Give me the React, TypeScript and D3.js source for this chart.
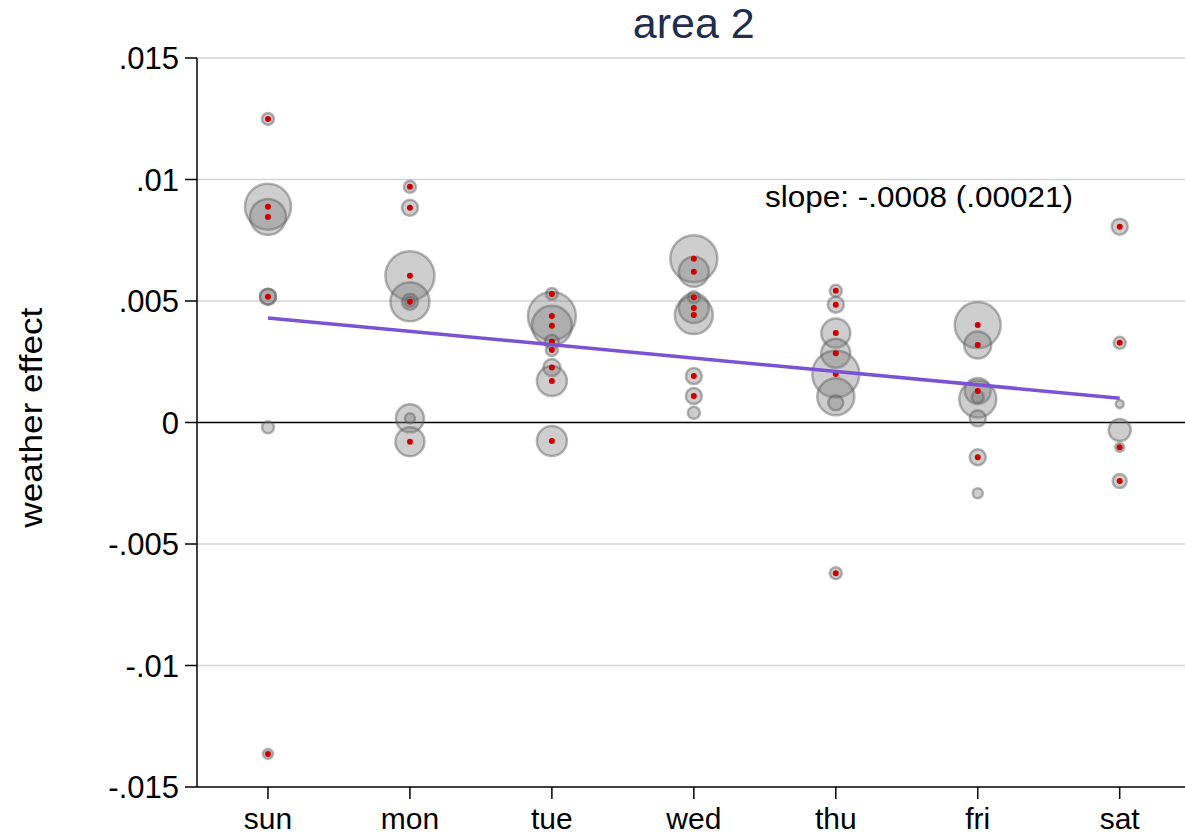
import React from "react";
import * as d3 from "d3";

const days = ["sun", "mon", "tue", "wed", "thu", "fri", "sat"];
const yTicks = [0.015, 0.01, 0.005, 0, -0.005, -0.01, -0.015];
const yTickLabels = [".015", ".01", ".005", "0", "-.005", "-.01", "-.015"];

// bubble: day index, value, radius weight, significant (red dot)
const bubbleDay = [
  0, 0, 0, 0, 0, 0, 0,
  1, 1, 1, 1, 1, 1, 1, 1, 1,
  2, 2, 2, 2, 2, 2, 2, 2,
  3, 3, 3, 3, 3, 3, 3, 3,
  4, 4, 4, 4, 4, 4, 4, 4,
  5, 5, 5, 5, 5, 5, 5, 5,
  6, 6, 6, 6, 6, 6,
];
const bubbleValue = [
  0.01249, 0.00888, 0.00846, 0.00518, 0.00518, -0.0002, -0.01364,
  0.0097, 0.00884, 0.00604, 0.00497, 0.00497, 0.00497, 0.00017, 0.00017, -0.00079,
  0.00529, 0.00438, 0.00398, 0.00332, 0.00298, 0.00226, 0.00171, -0.00076,
  0.00674, 0.0062, 0.00515, 0.00471, 0.00442, 0.00191, 0.00109, 0.0004,
  0.00542, 0.00485, 0.00368, 0.00285, 0.002, 0.00106, 0.00081, -0.0062,
  0.00401, 0.00319, 0.0013, 0.00097, 0.00104, 0.00017, -0.00143, -0.00291,
  0.00806, 0.00328, 0.00076, -0.00031, -0.00102, -0.00241,
];
const bubbleRadius = [
  6, 23, 18, 8, 8, 6, 5,
  6, 8, 24.5, 19.5, 8, 5, 14, 5, 14.5,
  6, 24, 20, 7, 6, 8.5, 15, 15,
  23.5, 15, 6, 15, 19, 8, 8, 6,
  6, 8, 14.5, 14.5, 23.5, 18.5, 7.5, 6,
  23, 13.5, 13, 18.5, 6, 8, 8, 5,
  8, 6, 4, 11, 4.5, 7,
];
const bubbleRed = [
  1, 1, 1, 1, 0, 0, 1,
  1, 1, 1, 1, 0, 0, 0, 0, 1,
  1, 1, 1, 1, 1, 1, 1, 1,
  1, 1, 1, 1, 1, 1, 1, 0,
  1, 1, 1, 1, 1, 0, 0, 1,
  1, 1, 1, 0, 0, 0, 1, 0,
  1, 1, 0, 0, 1, 1,
];

const fitDays = [0, 6];
const fitValues = [0.0043, 0.001];

const W = 1185;
const H = 835;
const left = 197;
const right = 1185;
const top = 58;
const bottom = 787;

export default function App() {
  const x = d3.scaleLinear().domain([-0.5, 6.46]).range([left, right]);
  const y = d3.scaleLinear().domain([-0.015, 0.015]).range([bottom, top]);
  const font = "'Liberation Sans', Arial, sans-serif";
  const line = d3
    .line<number>()
    .x((_, i) => x(fitDays[i]))
    .y((v) => y(v));

  return (
    <svg
      width={W}
      height={H}
      style={{ position: "absolute", left: 0, top: 0, background: "#fff" }}
      fontFamily={font}
    >
      <rect x={0} y={0} width={W} height={H} fill="#fff" />
      {yTicks.map((t, i) =>
        t !== 0 && t !== -0.015 ? (
          <line key={"g" + i} x1={left} x2={right} y1={y(t)} y2={y(t)} stroke="#d4d4d4" strokeWidth={1.5} />
        ) : null
      )}
      <line x1={left} x2={right} y1={y(0)} y2={y(0)} stroke="#000" strokeWidth={1.5} />
      {/* y axis */}
      <line x1={left} x2={left} y1={top} y2={bottom} stroke="#000" strokeWidth={1.5} />
      {yTicks.map((t, i) => (
        <g key={"yt" + i}>
          <line x1={left - 12} x2={left} y1={y(t)} y2={y(t)} stroke="#000" strokeWidth={1.5} />
          <text x={left - 18} y={y(t)} dy="0.36em" textAnchor="end" fontSize={31} fill="#000">
            {yTickLabels[i]}
          </text>
        </g>
      ))}
      {/* x axis */}
      <line x1={left} x2={right} y1={bottom} y2={bottom} stroke="#000" strokeWidth={1.5} />
      {days.map((d, i) => (
        <g key={"xt" + i}>
          <line x1={x(i)} x2={x(i)} y1={bottom} y2={bottom + 12} stroke="#000" strokeWidth={1.5} />
          <text x={x(i)} y={829} textAnchor="middle" fontSize={30} fill="#000">
            {d}
          </text>
        </g>
      ))}
      <text
        transform={`translate(42, ${y(0.0002)}) rotate(-90)`}
        textAnchor="middle"
        fontSize={32}
        textLength={220}
        lengthAdjust="spacingAndGlyphs"
        fill="#000"
      >
        weather effect
      </text>
      <text x={x(3)} y={38} textAnchor="middle" fontSize={43} fill="#1f2d4f">
        area 2
      </text>
      {/* bubbles */}
      {bubbleValue.map((v, i) => (
        <circle
          key={"b" + i}
          cx={x(bubbleDay[i])}
          cy={y(v)}
          r={bubbleRadius[i]}
          fill="rgba(120,120,120,0.36)"
          stroke="rgba(90,90,90,0.45)"
          strokeWidth={2.5}
        />
      ))}
      {bubbleValue.map((v, i) =>
        bubbleRed[i] ? (
          <circle key={"r" + i} cx={x(bubbleDay[i])} cy={y(v)} r={3} fill="#d00000" />
        ) : null
      )}
      <path d={line(fitValues) || ""} fill="none" stroke="#7b52d4" strokeWidth={3.5} />
      <text x={765} y={207} fontSize={29} textLength={308} lengthAdjust="spacingAndGlyphs" fill="#000">
        slope: -.0008 (.00021)
      </text>
    </svg>
  );
}
